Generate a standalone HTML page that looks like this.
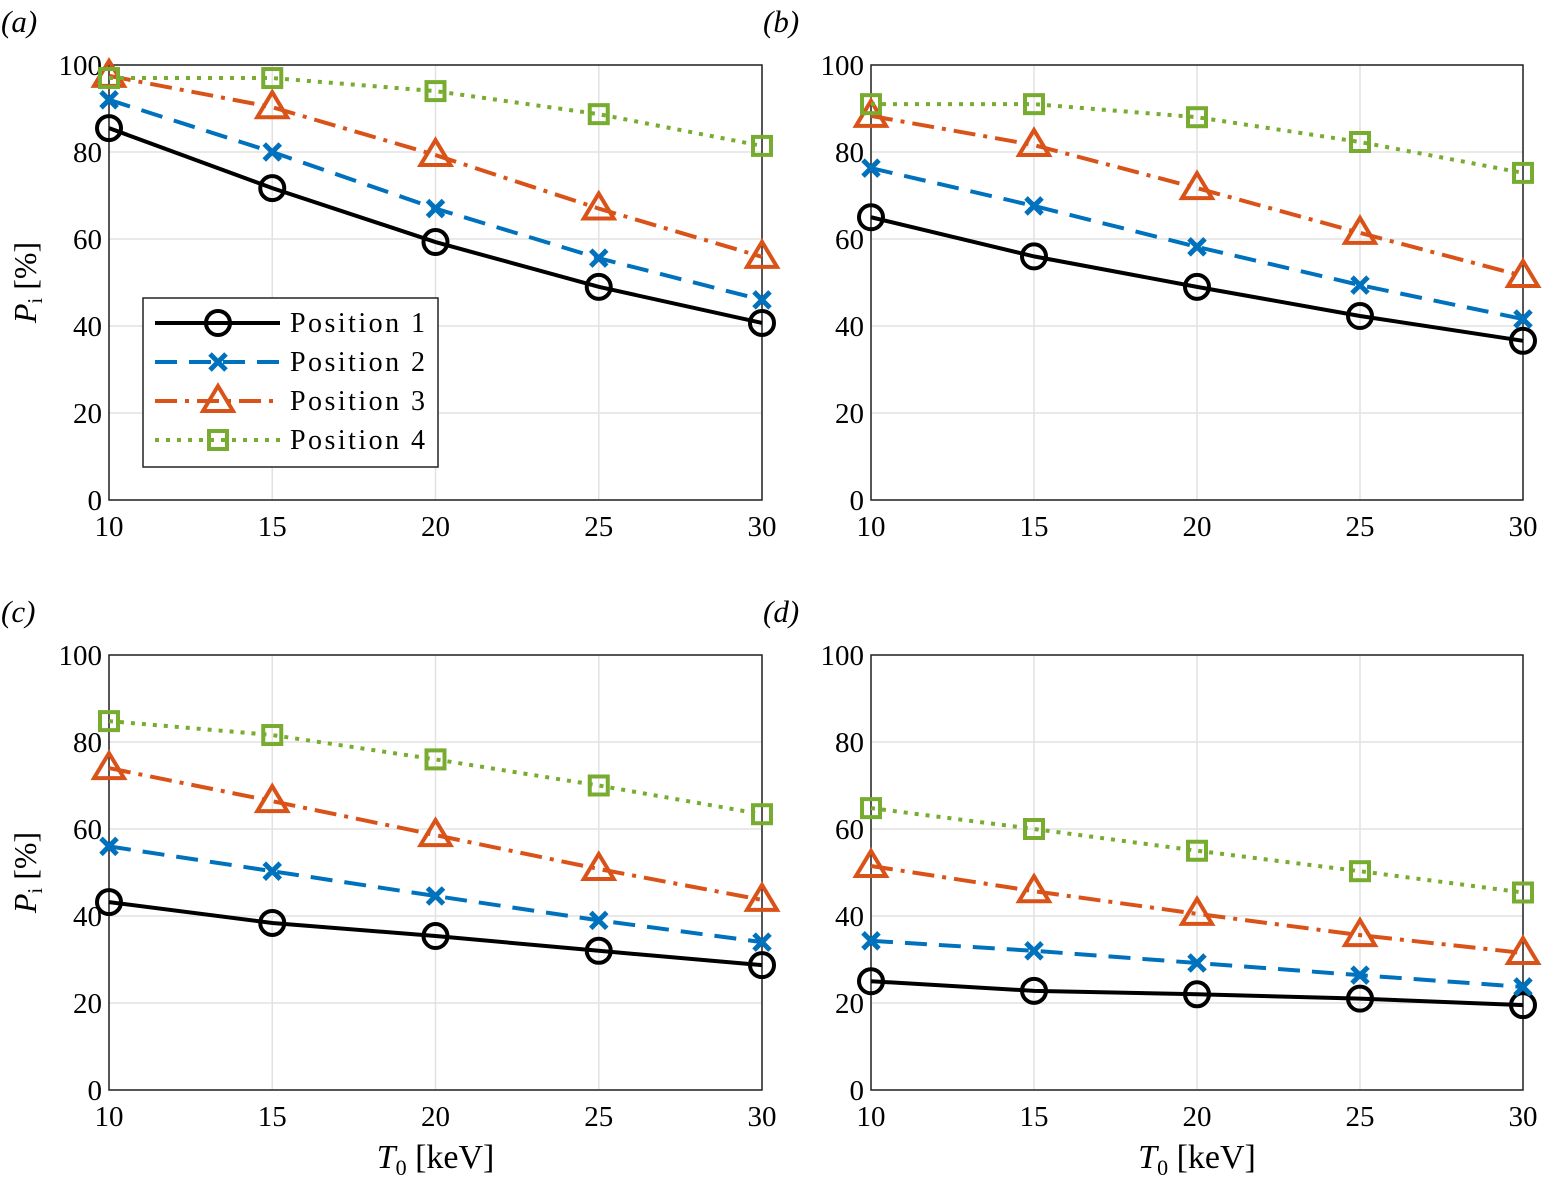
<!DOCTYPE html>
<html><head><meta charset="utf-8"><style>
body{margin:0;background:#fff}
svg{display:block;font-family:"Liberation Serif",serif}
</style></head><body>
<svg id="fig" width="1547" height="1183" xmlns="http://www.w3.org/2000/svg"></svg>
<script>
const xCats=[10,15,20,25,30];
const yTicks=[0,20,40,60,80,100];
const panelLabels=['(a)','(b)','(c)','(d)'];
const seriesNames=['Position 1','Position 2','Position 3','Position 4'];
const aP1=[85.5,71.7,59.3,49,40.7], aP2=[92,80,67,55.6,46], aP3=[97.5,90.3,79.3,67,55.9], aP4=[97,97,94,88.7,81.4];
const bP1=[65,56,49,42.3,36.6], bP2=[76.3,67.6,58.2,49.4,41.6], bP3=[88.3,81.6,71.7,61.4,51.5], bP4=[91,91,88,82.3,75.2];
const cP1=[43.2,38.4,35.4,32,28.7], cP2=[56,50.3,44.6,39,34], cP3=[74,66.4,58.6,50.8,43.7], cP4=[84.8,81.6,76,70,63.4];
const dP1=[25,22.8,22,21,19.5], dP2=[34.3,32,29.2,26.4,23.7], dP3=[51.5,45.7,40.5,35.6,31.5], dP4=[64.8,60,55,50.3,45.4];
const panelData=[[aP1,aP2,aP3,aP4],[bP1,bP2,bP3,bP4],[cP1,cP2,cP3,cP4],[dP1,dP2,dP3,dP4]];
const colors=['#000000','#0072BD','#D95319','#77AC30'];
const dashes=['none','22,12','22,8,4,8','4,7'];
const NS='http://www.w3.org/2000/svg';
const svg=document.getElementById('fig');
function mk(tag,attrs,parent){const e=document.createElementNS(NS,tag);for(const k in attrs)e.setAttribute(k,attrs[k]);(parent||svg).appendChild(e);return e;}
function marker(g,s,x,y,c){
  if(s===0){return mk('circle',{cx:x,cy:y,r:12,fill:'none',stroke:c,'stroke-width':4},g);}
  if(s===1){return mk('path',{d:`M${x-8},${y-8}L${x+8},${y+8}M${x-8},${y+8}L${x+8},${y-8}`,stroke:c,'stroke-width':5,fill:'none'},g);}
  if(s===2){return mk('path',{d:`M${x},${y-15}L${x+15},${y+10}L${x-15},${y+10}Z`,stroke:c,'stroke-width':4,fill:'none'},g);}
  return mk('rect',{x:x-9,y:y-9,width:18,height:18,stroke:c,'stroke-width':4,fill:'none'},g);
}
const panels=[{x0:109,x1:762,y0:65,y1:500},{x0:871,x1:1523,y0:65,y1:500},{x0:109,x1:762,y0:655,y1:1090},{x0:871,x1:1523,y0:655,y1:1090}];
panels.forEach((p,pi)=>{
  const g=mk('g',{});
  
  
  const xs=v=>p.x0+(v-10)/20*(p.x1-p.x0);
  const ys=v=>p.y1-v/100*(p.y1-p.y0);
  xCats.forEach(v=>{
    const l=mk('line',{x1:xs(v),x2:xs(v),y1:p.y0,y2:p.y1,stroke:'#e2e2e2','stroke-width':1.5},g);
    
    
    const t=mk('text',{x:xs(v),y:p.y1+36,'font-size':29,'text-anchor':'middle'},g);t.textContent=v;
    
    
  });
  yTicks.forEach(v=>{
    const l=mk('line',{x1:p.x0,x2:p.x1,y1:ys(v),y2:ys(v),stroke:'#e2e2e2','stroke-width':1.5},g);
    
    
    const t=mk('text',{x:p.x0-7,y:ys(v)+10,'font-size':29,'text-anchor':'end'},g);t.textContent=v;
    
    
  });
  const box=mk('rect',{x:p.x0,y:p.y0,width:p.x1-p.x0,height:p.y1-p.y0,fill:'none',stroke:'#222','stroke-width':1.5},g);
  
  
  const lab=mk('text',{x:p.x0-108,y:p.y0-33,'font-size':31,'font-style':'italic'},g);lab.textContent=panelLabels[pi];
  
  
  panelData[pi].forEach((arr,si)=>{
    const pts=arr.map((v,i)=>xs(xCats[i])+','+ys(v)).join(' ');
    const pl=mk('polyline',{points:pts,fill:'none',stroke:colors[si],'stroke-width':4,'stroke-dasharray':dashes[si]},g);
    
    
    arr.forEach((v,i)=>{const m=marker(g,si,xs(xCats[i]),ys(v),colors[si]);
      
      });
  });
  if(pi%2===0){
    const yl=mk('text',{x:0,y:0,'font-size':32,'text-anchor':'middle',transform:`translate(36,${(p.y0+p.y1)/2}) rotate(-90)`},g);
    yl.innerHTML='<tspan font-style="italic">P</tspan><tspan font-size="21" dy="6">i</tspan><tspan dy="-6"> [%]</tspan>';
    
    
  }
  if(pi>=2){
    const xl=mk('text',{x:(p.x0+p.x1)/2,y:1168,'font-size':34,'text-anchor':'middle'},g);
    xl.innerHTML='<tspan font-style="italic">T</tspan><tspan font-size="22" dy="7">0</tspan><tspan dy="-7"> [keV]</tspan>';
    
    
  }
});
const lg=mk('g',{});


mk('rect',{x:143,y:298,width:295,height:169,fill:'#fff',stroke:'#222','stroke-width':1.5},lg);
seriesNames.forEach((n,si)=>{
  const y=323+si*39;
  const e=mk('g',{},lg);
  
  
  mk('line',{x1:155,x2:280,y1:y,y2:y,stroke:colors[si],'stroke-width':4,'stroke-dasharray':dashes[si]},e);
  marker(e,si,218,y,colors[si]);
  const t=mk('text',{x:290,y:y+9,'font-size':28,textLength:135},e);t.textContent=n;
});
</script>
</body></html>
